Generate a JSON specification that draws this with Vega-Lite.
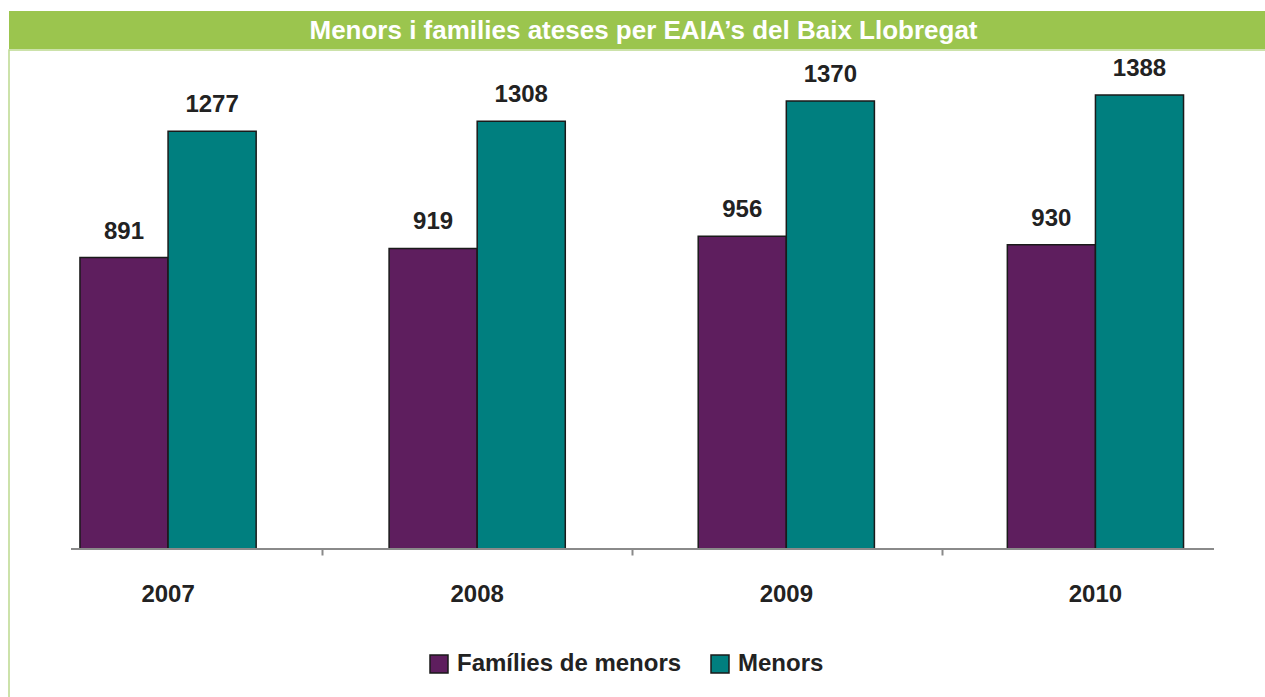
{
  "$schema": "https://vega.github.io/schema/vega-lite/v6.json",
  "background": "white",
  "padding": {"left": 8, "top": 11, "right": 0, "bottom": 0},
  "spacing": 0,
  "config": {"view": {"stroke": null}, "font": "Liberation Sans"},
  "vconcat": [
    {
      "width": 1257,
      "height": 38,
      "view": {"fill": "#9bc54e", "stroke": null},
      "data": {"values": [{}]},
      "mark": {
        "type": "text",
        "text": "Menors i families ateses  per EAIA’s del Baix Llobregat",
        "font": "Liberation Sans",
        "fontSize": 26,
        "fontWeight": "bold",
        "color": "white",
        "align": "center",
        "baseline": "middle",
        "dx": 6,
        "dy": 1
      },
      "encoding": {}
    },
    {
      "width": 1300,
      "height": 660,
      "view": {"stroke": "#bcd98f", "strokeWidth": 1.5},
      "data": {
        "values": [
          {"year": "2007", "serie": "Famílies de menors", "value": 891},
          {"year": "2007", "serie": "Menors", "value": 1277},
          {"year": "2008", "serie": "Famílies de menors", "value": 919},
          {"year": "2008", "serie": "Menors", "value": 1308},
          {"year": "2009", "serie": "Famílies de menors", "value": 956},
          {"year": "2009", "serie": "Menors", "value": 1370},
          {"year": "2010", "serie": "Famílies de menors", "value": 930},
          {"year": "2010", "serie": "Menors", "value": 1388}
        ]
      },
      "resolve": {"scale": {"x": "independent"}, "axis": {"x": "independent"}},
      "layer": [
        {
          "encoding": {
            "x": {
              "field": "year",
              "type": "nominal",
              "scale": {"domain": ["2007", "2008", "2009", "2010"], "range": [4.5, 1241], "paddingInner": 0.43, "paddingOuter": 0.215},
              "axis": {
                "orient": "bottom",
                "title": null,
                "domain": false,
                "ticks": false,
                "labelAngle": 0,
                "labelFont": "Liberation Sans",
                "labelFontSize": 24,
                "labelFontWeight": "bold",
                "labelColor": "#222222",
                "labelPadding": 33,
                "offset": -161
              }
            },
            "y": {
              "field": "value",
              "type": "quantitative",
              "scale": {"domain": [0, 1388], "range": [499, 45], "nice": false, "zero": true},
              "axis": null
            }
          },
          "layer": [
            {
              "mark": {"type": "bar", "stroke": "#1a1a1a", "strokeWidth": 1.5},
              "encoding": {
                "xOffset": {
                  "field": "serie",
                  "type": "nominal",
                  "scale": {"domain": ["Famílies de menors", "Menors"], "paddingInner": 0, "paddingOuter": 0}
                },
                "color": {
                  "field": "serie",
                  "type": "nominal",
                  "scale": {"domain": ["Famílies de menors", "Menors"], "range": ["#5e1e5e", "#007f7f"]},
                  "legend": {
                    "title": null,
                    "orient": "none",
                    "legendX": 418,
                    "legendY": 641,
                    "direction": "horizontal",
                    "symbolType": "square",
                    "symbolSize": 324,
                    "symbolStrokeColor": "#1a1a1a",
                    "symbolStrokeWidth": 1.5,
                    "labelFont": "Liberation Sans",
                    "labelFontSize": 24,
                    "labelFontWeight": "bold",
                    "labelColor": "#222222",
                    "labelOffset": 6,
                    "labelLimit": 400,
                    "columnPadding": 26,
                    "padding": 0
                  }
                }
              }
            },
            {
              "mark": {
                "type": "text",
                "baseline": "alphabetic",
                "dy": -19,
                "font": "Liberation Sans",
                "fontSize": 24,
                "fontWeight": "bold",
                "color": "#222222"
              },
              "encoding": {
                "xOffset": {
                  "field": "serie",
                  "type": "nominal",
                  "scale": {"domain": ["Famílies de menors", "Menors"], "paddingInner": 0, "paddingOuter": 0}
                },
                "text": {"field": "value", "type": "quantitative"}
              }
            }
          ]
        },
        {
          "data": {"values": [{}]},
          "mark": {"type": "rule", "color": "#8a8a8a", "strokeWidth": 2},
          "encoding": {
            "x": {
              "datum": 0,
              "type": "quantitative",
              "scale": {"domain": [0, 1], "range": [62, 1205]},
              "axis": {
                "orient": "top",
                "values": [0.2196, 0.4908, 0.762],
                "labels": false,
                "domain": false,
                "grid": false,
                "ticks": true,
                "tickSize": 6,
                "tickWidth": 2,
                "tickColor": "#8a8a8a",
                "title": null,
                "offset": -505
              }
            },
            "x2": {"datum": 1},
            "y": {"datum": 0, "type": "quantitative", "scale": {"domain": [0, 1388], "range": [499, 45], "nice": false, "zero": true}, "axis": null}
          }
        }
      ]
    }
  ]
}
